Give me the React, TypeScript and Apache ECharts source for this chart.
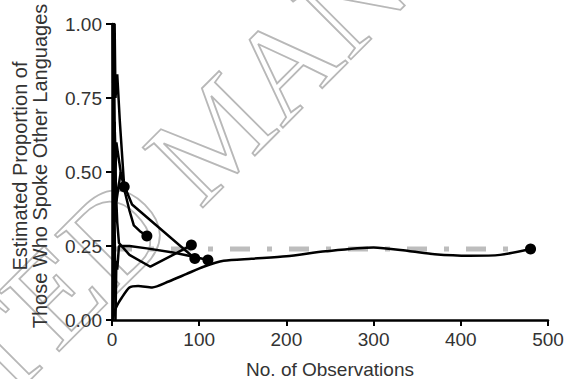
import React, { useEffect, useRef } from "react";
import * as echarts from "echarts";

// Data
const xTicks = [0, 100, 200, 300, 400, 500];
const yTicks = [0, 0.25, 0.5, 0.75, 1.0];
const referenceLevel = 0.24;
const referenceSpan = [0, 480];

const seriesLong: number[][] = [
  [1, 0], [3, 0.03], [6, 0.05], [10, 0.07], [20, 0.11], [30, 0.115], [46, 0.11],
  [65, 0.13], [85, 0.155], [105, 0.18], [128, 0.2], [160, 0.207], [200, 0.215],
  [245, 0.232], [300, 0.245], [340, 0.233], [370, 0.222], [410, 0.217], [445, 0.22], [480, 0.24],
];
const seriesA: number[][] = [[1, 1], [2, 1], [3, 1], [4, 0.75], [6, 0.83], [9, 0.67], [14, 0.45]];
const seriesB: number[][] = [
  [1, 0], [2, 0.5], [3, 0.67], [4, 0.5], [5, 0.6], [10, 0.5], [15, 0.43], [20, 0.37], [25, 0.32], [32, 0.3], [40, 0.284],
];
const seriesC: number[][] = [[1, 1], [2, 0.5], [3, 0.33], [4, 0.5], [5, 0.4], [10, 0.5], [16, 0.44], [23, 0.39], [95, 0.208]];
const seriesD: number[][] = [
  [1, 0], [2, 1], [3, 0.67], [4, 0.5], [5, 0.4], [6, 0.33], [8, 0.26], [20, 0.22], [44, 0.18], [70, 0.22], [91, 0.253],
];
const seriesE: number[][] = [
  [1, 1], [2, 0.5], [3, 0.33], [4, 0], [5, 0.2], [6, 0.17], [8, 0.25], [20, 0.25], [40, 0.242], [70, 0.228], [95, 0.213], [110, 0.203],
];

const FONT = "'Liberation Sans', Arial, sans-serif";

function lineSeries(data: number[][], smooth: number | boolean = false) {
  const last = data.length - 1;
  return {
    type: "line",
    data,
    smooth,
    symbol: "circle",
    showSymbol: true,
    showAllSymbol: true,
    symbolSize: (_v: any, p: any) => (p.dataIndex === last ? 11 : 0),
    itemStyle: { color: "#000" },
    lineStyle: { color: "#000", width: 2.5 },
    z: 3,
  };
}

export default function App() {
  const ref = useRef<HTMLDivElement>(null);
  useEffect(() => {
    if (!ref.current) return;
    const chart = echarts.init(ref.current, null, { renderer: "svg" });
    chart.setOption({
      animation: false,
      backgroundColor: "#fff",
      grid: { left: 112, right: 21, top: 24, bottom: 59, containLabel: false, outerBoundsMode: "none" },
      xAxis: {
        type: "value",
        min: xTicks[0],
        max: xTicks[xTicks.length - 1],
        interval: 100,
        name: "No. of Observations",
        nameLocation: "middle",
        nameGap: 40,
        nameTextStyle: { fontSize: 19, color: "#333", fontFamily: FONT },
        axisLine: { show: true, onZero: false, lineStyle: { color: "#000", width: 2.5 } },
        axisTick: { show: true, length: 6, lineStyle: { color: "#000", width: 2 } },
        axisLabel: { fontSize: 19, color: "#333", fontFamily: FONT, margin: 10 },
        splitLine: { show: false },
      },
      yAxis: {
        type: "value",
        min: yTicks[0],
        max: yTicks[yTicks.length - 1],
        interval: 0.25,
        axisLine: { show: true, onZero: false, lineStyle: { color: "#000", width: 2.5 } },
        axisTick: { show: true, length: 6, lineStyle: { color: "#000", width: 2 } },
        axisLabel: {
          fontSize: 19,
          color: "#333",
          fontFamily: FONT,
          margin: 10,
          formatter: (v: number) => v.toFixed(2),
        },
        splitLine: { show: false },
      },
      graphic: [
        {
          type: "group",
          x: 215,
          y: 225,
          rotation: Math.PI / 4,
          z: -10,
          silent: true,
          children: [
            {
              type: "text",
              x: -30,
              y: 0,
              style: {
                text: "ACCEPTED",
                font: "130px 'Liberation Serif', serif",
                textAlign: "right",
                textVerticalAlign: "bottom",
                fill: "transparent",
                stroke: "#b8b8b8",
                lineWidth: 1.8,
              },
            },
            {
              type: "text",
              x: 0,
              y: 0,
              style: {
                text: "MANUSCRIPT",
                font: "130px 'Liberation Serif', serif",
                textAlign: "left",
                textVerticalAlign: "bottom",
                fill: "transparent",
                stroke: "#b8b8b8",
                lineWidth: 1.8,
              },
            },
          ],
        },
        {
          type: "text",
          x: 30,
          y: 166,
          rotation: Math.PI / 2,
          style: {
            text: "Estimated Proportion of\nThose Who Spoke Other Languages",
            font: `20px ${FONT}`,
            fill: "#333",
            textAlign: "center",
            textVerticalAlign: "middle",
            lineHeight: 20,
          },
        },
      ],
      series: [
        {
          type: "line",
          data: [
            [referenceSpan[0], referenceLevel],
            [referenceSpan[1], referenceLevel],
          ],
          symbol: "none",
          lineStyle: { color: "#bdbdbd", width: 5, type: [20, 17, 5, 17] },
          z: 2,
        },
        lineSeries(seriesLong, 0.25),
        lineSeries(seriesA),
        lineSeries(seriesB),
        lineSeries(seriesC),
        lineSeries(seriesD),
        lineSeries(seriesE),
      ],
    });
    return () => chart.dispose();
  }, []);
  return <div ref={ref} style={{ width: 569, height: 379, position: "absolute", left: 0, top: 0 }} />;
}
